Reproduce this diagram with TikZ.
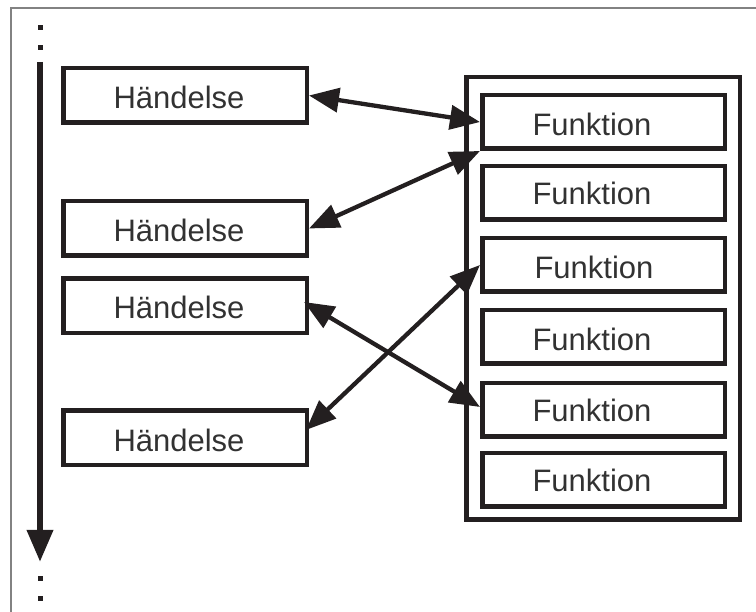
\documentclass[tikz,border=0pt]{standalone}
\usepackage{fontspec}
\setmainfont{Liberation Sans}
\usetikzlibrary{arrows.meta}
\definecolor{ink}{RGB}{35,31,32}
\definecolor{txt}{RGB}{50,50,50}
\definecolor{framegray}{RGB}{130,130,130}
\tikzset{
  hbox/.style={draw=ink, line width=4.5pt, minimum width=243.5pt, minimum height=54.5pt, inner sep=0pt},
  fbox/.style={draw=ink, line width=4.5pt, minimum width=242.5pt, minimum height=53.5pt, inner sep=0pt},
  lbl/.style={text=txt, font=\fontsize{31}{36}\selectfont, inner sep=0pt},
  link/.style={draw=ink, line width=4.3pt, {Triangle[length=30pt,width=24pt]}-{Triangle[length=30pt,width=24pt]}},
  dot/.style={fill=ink, minimum size=5pt, inner sep=0pt}
}
\begin{document}
\begin{tikzpicture}[x=1pt,y=-1pt]
\useasboundingbox (0,0) rectangle (756,612);
% frame
\draw[framegray, line width=1.5pt] (756,8) -- (11,8) -- (11,612);
% time axis
\node[dot] (d1) at (40,28) {};
\node[dot] (d2) at (40,48) {};
\node[dot] (d3) at (40,578) {};
\node[dot] (d4) at (40,598) {};
\coordinate (ts) at (40,62);
\coordinate (te) at (40,562);
\draw[ink, line width=6.5pt, -{Triangle[length=32pt,width=25pt]}] (ts) -- (te);
% events
\node[hbox] (h1) at (185,95.5) {};
\node[hbox] (h2) at (185,228.5) {};
\node[hbox] (h3) at (185,306) {};
\node[hbox] (h4) at (185,438) {};
\node[lbl] (h1t) at (179,97) {Händelse};
\node[lbl] (h2t) at (179,230) {Händelse};
\node[lbl] (h3t) at (179,307) {Händelse};
\node[lbl] (h4t) at (179,440) {Händelse};
% function container
\node[draw=ink, line width=4.5pt, minimum width=273.5pt, minimum height=442.5pt, inner sep=0pt] (fc) at (603,298.5) {};
\node[fbox] (f1) at (603.5,122) {};
\node[fbox] (f2) at (603.5,193) {};
\node[fbox] (f3) at (603.5,265) {};
\node[fbox] (f4) at (603.5,337) {};
\node[fbox] (f5) at (603.5,410) {};
\node[fbox] (f6) at (603.5,480) {};
\node[lbl] (f1t) at (592,124) {Funktion};
\node[lbl] (f2t) at (592,193) {Funktion};
\node[lbl] (f3t) at (594,267) {Funktion};
\node[lbl] (f4t) at (592,339) {Funktion};
\node[lbl] (f5t) at (592,410) {Funktion};
\node[lbl] (f6t) at (592,480) {Funktion};
% links
\draw[link] (h1.east) -- (f1.west);
\draw[link] (h2.east) -- (f1.south west);
\draw[link] ([xshift=-5pt,yshift=4pt]h3.east) -- ([yshift=3pt]f5.west);
\draw[link] ([xshift=-3pt,yshift=8pt]h4.east) -- (f3.west);
\end{tikzpicture}
\end{document}
